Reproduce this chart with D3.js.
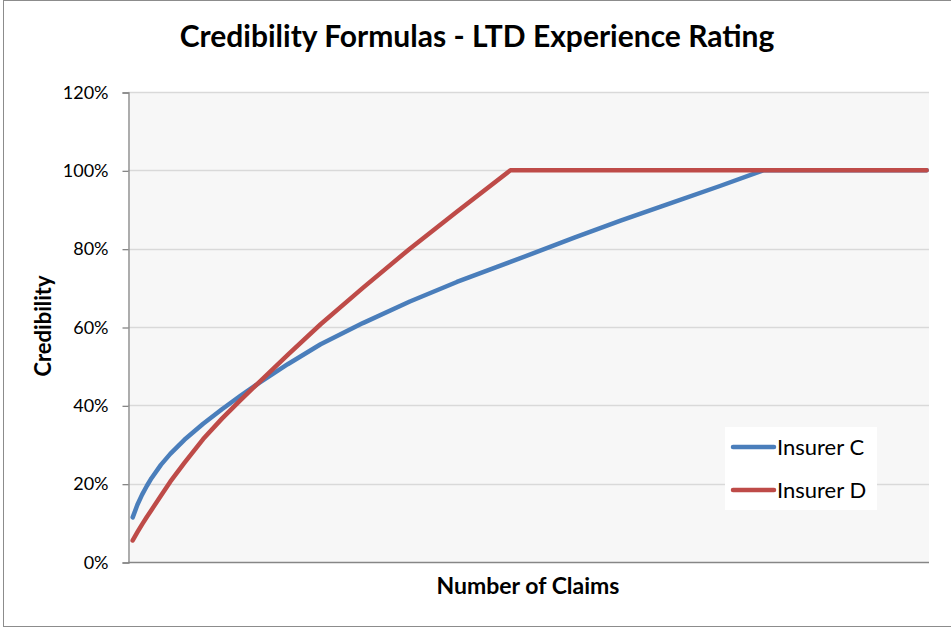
<!DOCTYPE html>
<html>
<head>
<meta charset="utf-8">
<script src="https://cdn.jsdelivr.net/npm/d3@7"></script>
<style>
  body { margin: 0; background: #ffffff; }
  text { font-family: Lato, "Open Sans", sans-serif; fill: #000; }
</style>
</head>
<body>
<div id="d3-container"></div>
<script>
/* DATA */
// number of claims (x axis is unlabeled in the original, so these are just relative positions)
const claims = [1, 2, 3, 4, 5, 7, 9, 12, 16, 20, 24, 28, 34, 41, 50, 60, 70, 81.4, 95, 105, 116, 126, 135.2, 170];
// credibility in %
const insurerC = [11.4, 14.6, 17.2, 19.4, 21.4, 24.8, 27.6, 31.2, 35.3, 39.0, 42.5, 45.8, 50.5, 55.6, 61.0, 66.5, 71.5, 76.6, 82.8, 87.2, 91.8, 96.0, 100, 100];
const insurerD = [5.5, 7.6, 9.6, 11.5, 13.3, 16.9, 20.5, 25.3, 31.4, 36.6, 41.4, 46.0, 52.9, 60.7, 70.0, 80.0, 89.4, 100, 100, 100, 100, 100, 100, 100];
const seriesNames = ["Insurer C", "Insurer D"];
const yTicks = [0, 20, 40, 60, 80, 100, 120];

/* CONSTANTS */
const width = 951,
  height = 628,
  margin = { top: 92, bottom: 66, left: 128, right: 22 };
const colors = ["#4a7ebb", "#be4b48"];

let svg, xScale, yScale;

function init() {
  svg = d3.select("#d3-container")
    .append("svg")
    .attr("width", width)
    .attr("height", height);

  // chart frame
  svg.append("rect")
    .attr("x", 3.5).attr("y", 0.5)
    .attr("width", width + 5).attr("height", 626)
    .attr("fill", "#fff")
    .attr("stroke", "#8c8c8c");

  xScale = d3.scaleLinear()
    .domain([0, 170.5])
    .range([margin.left, width - margin.right]);

  yScale = d3.scaleLinear()
    .domain([0, 120])
    .range([height - margin.bottom, margin.top]);

  // plot area
  svg.append("rect")
    .attr("x", margin.left).attr("y", margin.top)
    .attr("width", width - margin.right - margin.left)
    .attr("height", height - margin.bottom - margin.top)
    .attr("fill", "#f7f7f7");

  // gridlines
  svg.append("g")
    .selectAll("line")
    .data(yTicks.filter(d => d > 0))
    .join("line")
    .attr("x1", margin.left)
    .attr("x2", width - margin.right)
    .attr("y1", d => Math.round(yScale(d)) + 0.5)
    .attr("y2", d => Math.round(yScale(d)) + 0.5)
    .attr("stroke", "#d9d9d9")
    .attr("stroke-width", 1.3);

  // AXES
  const yAxis = d3.axisLeft(yScale)
    .tickValues(yTicks)
    .tickFormat(d => d + "%")
    .tickSize(6)
    .tickPadding(14);

  const yG = svg.append("g")
    .attr("transform", `translate(${margin.left + 0.5}, 0.5)`)
    .call(yAxis);
  yG.select(".domain").attr("stroke", "#868686").attr("stroke-width", 1.3);
  yG.selectAll(".tick line").attr("stroke", "#868686").attr("stroke-width", 1.3);
  yG.selectAll(".tick text")
    .attr("font-size", 18)
    .attr("font-family", "Lato, 'Open Sans', sans-serif")
    .attr("fill", "#000");

  svg.append("line")
    .attr("x1", margin.left)
    .attr("x2", width - margin.right)
    .attr("y1", yScale(0) + 0.5)
    .attr("y2", yScale(0) + 0.5)
    .attr("stroke", "#868686")
    .attr("stroke-width", 1.3);

  // titles
  svg.append("text")
    .attr("x", 477)
    .attr("y", 47)
    .attr("text-anchor", "middle")
    .attr("font-size", 30)
    .attr("font-weight", "bold")
    .text("Credibility Formulas - LTD Experience Rating");

  svg.append("text")
    .attr("x", 528)
    .attr("y", 594)
    .attr("text-anchor", "middle")
    .attr("font-size", 23)
    .attr("font-weight", "bold")
    .text("Number of Claims");

  svg.append("text")
    .attr("transform", `translate(51, 326) rotate(-90)`)
    .attr("text-anchor", "middle")
    .attr("font-size", 22)
    .attr("font-weight", "bold")
    .text("Credibility");

  draw();
}

function draw() {
  const series = [insurerC, insurerD].map((vals, i) => ({
    name: seriesNames[i],
    color: colors[i],
    values: claims.map((c, j) => ({ claims: c, cred: vals[j] }))
  }));

  const line = d3.line()
    .x(d => xScale(d.claims))
    .y(d => yScale(d.cred));

  svg.append("g")
    .selectAll("path")
    .data(series)
    .join("path")
    .attr("d", d => line(d.values))
    .attr("fill", "none")
    .attr("stroke", d => d.color)
    .attr("stroke-width", 4.5)
    .attr("stroke-linecap", "round")
    .attr("stroke-linejoin", "round");

  // LEGEND
  const legend = svg.append("g").attr("transform", "translate(725, 427)");
  legend.append("rect")
    .attr("width", 152).attr("height", 83)
    .attr("fill", "#ffffff");

  const items = legend.selectAll("g")
    .data(series)
    .join("g")
    .attr("transform", (d, i) => `translate(0, ${20 + i * 43})`);

  items.append("line")
    .attr("x1", 8).attr("x2", 49)
    .attr("stroke", d => d.color)
    .attr("stroke-width", 4.5)
    .attr("stroke-linecap", "round");

  items.append("text")
    .attr("x", 52)
    .attr("y", 8)
    .attr("font-size", 22)
    .text(d => d.name);
}

init();
</script>
</body>
</html>
